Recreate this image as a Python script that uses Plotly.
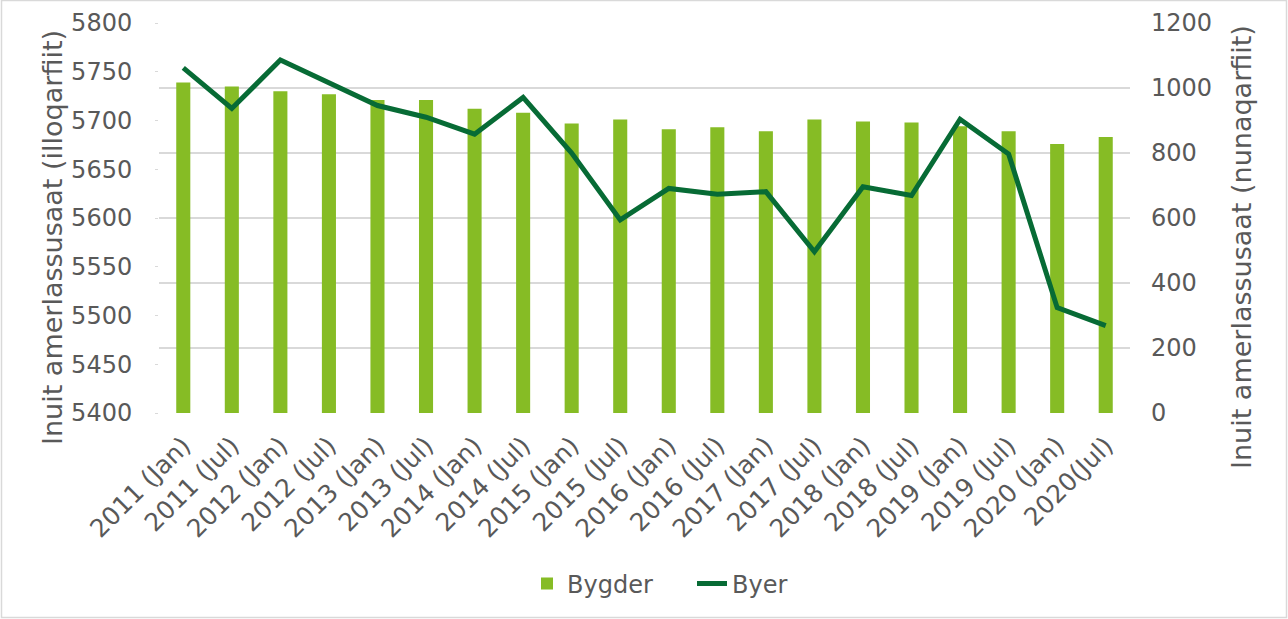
import plotly.graph_objects as go

categories = ["2011 (Jan)", "2011 (Jul)", "2012 (Jan)", "2012 (Jul)", "2013 (Jan)",
              "2013 (Jul)", "2014 (Jan)", "2014 (Jul)", "2015 (Jan)", "2015 (Jul)",
              "2016 (Jan)", "2016 (Jul)", "2017 (Jan)", "2017 (Jul)", "2018 (Jan)",
              "2018 (Jul)", "2019 (Jan)", "2019 (Jul)", "2020 (Jan)", "2020(Jul)"]
bygder = [5739, 5735, 5730, 5727, 5721, 5721, 5712, 5708, 5697, 5701,
          5691, 5693, 5689, 5701, 5699, 5698, 5694, 5689, 5676, 5683]
byer = [1062, 937, 1086, 1015, 946, 910, 858, 971, 800, 594,
        691, 673, 681, 496, 696, 669, 904, 797, 324, 269]
left_ticks = [5400, 5450, 5500, 5550, 5600, 5650, 5700, 5750, 5800]
right_ticks = [0, 200, 400, 600, 800, 1000, 1200]

FONT = "DejaVu Sans"
GREY = "#595959"
W, H = 1288, 619
L, R, T, B = 159, 158, 23, 206
PW, PH = W - L - R, H - T - B


def px(x):
    return (x - L) / PW


def py(y):
    return (H - B - y) / PH


fig = go.Figure()
fig.add_trace(go.Bar(x=categories, y=bygder, name="Bygder",
                     marker=dict(color="#86bc25", line=dict(width=0)),
                     yaxis="y"))
fig.add_trace(go.Scatter(x=categories, y=byer, name="Byer", mode="lines",
                         line=dict(color="#076b35", width=5),
                         yaxis="y2"))

fig.update_layout(
    width=W, height=H,
    margin=dict(l=L, r=R, t=T, b=B, autoexpand=False),
    paper_bgcolor="white", plot_bgcolor="white",
    font=dict(family=FONT, color=GREY, size=24),
    bargap=0.71,
    xaxis=dict(type="category", tickangle=-45, showgrid=False, showline=False,
               ticks="", tickfont=dict(size=25, color=GREY), automargin=False,
               ticklabelstandoff=12),
    yaxis=dict(range=[5400, 5800], tickvals=left_ticks, showgrid=False,
               zeroline=False, showline=False, ticks="outside", ticklen=3,
               tickcolor="#d9d9d9", tickfont=dict(size=24, color=GREY),
               ticklabelstandoff=18, automargin=False),
    yaxis2=dict(range=[0, 1200], tickvals=right_ticks, overlaying="y",
                side="right", showgrid=True, gridcolor="#d9d9d9", gridwidth=1.5,
                zeroline=False, showline=False, ticks="",
                tickfont=dict(size=24, color=GREY), ticklabelstandoff=20,
                automargin=False),
    legend=dict(orientation="h", x=px(527), xanchor="left", y=py(584),
                yanchor="middle", font=dict(size=24, color=GREY),
                entrywidth=120, entrywidthmode="pixels",
                bgcolor="rgba(0,0,0,0)"),
    annotations=[
        dict(text="Inuit amerlassusaat (illoqarfiit)", textangle=-90,
             xref="paper", yref="paper", x=px(52.5), y=py(237.5),
             xanchor="center", yanchor="middle", showarrow=False,
             font=dict(size=27, color=GREY, family=FONT)),
        dict(text="Inuit amerlassusaat (nunaqarfiit)", textangle=-90,
             xref="paper", yref="paper", x=px(1241.5), y=py(247.5),
             xanchor="center", yanchor="middle", showarrow=False,
             font=dict(size=27, color=GREY, family=FONT)),
    ],
    shapes=[dict(type="rect", xref="paper", yref="paper",
                 x0=px(1.5), x1=px(1286.5), y0=py(617.5), y1=py(0.5),
                 line=dict(color="#d9d9d9", width=1.5), layer="below")],
)

fig.write_html("out.html", config={"displayModeBar": False},
               post_script="document.body.style.margin='0';"
                           "document.body.style.overflow='hidden';")
